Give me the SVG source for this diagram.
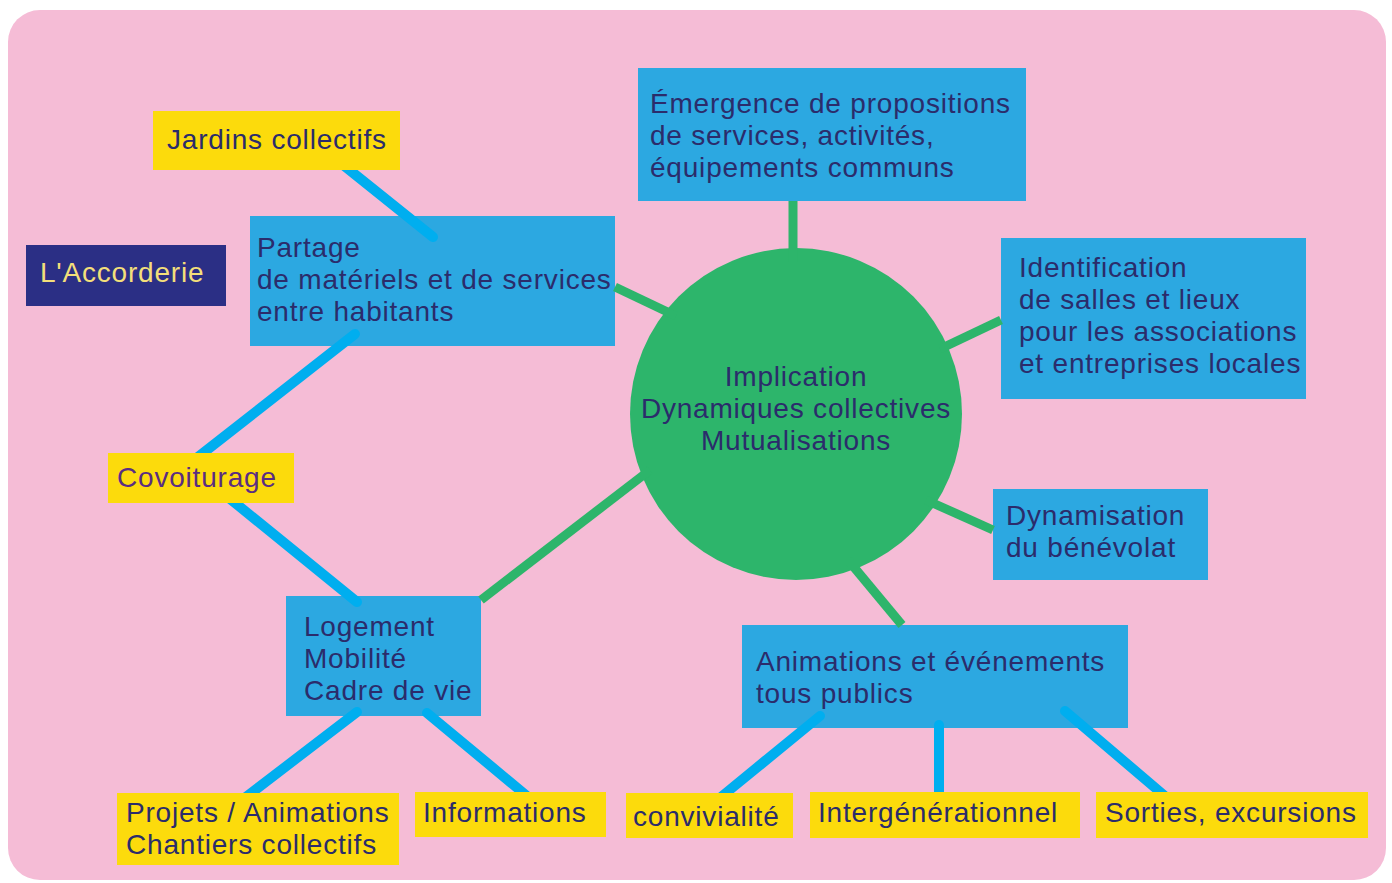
<svg xmlns="http://www.w3.org/2000/svg" width="1392" height="883" viewBox="0 0 1392 883">
<style>
.bg{fill:#f5bcd6}
.blue{fill:#2ca8e1}
.yel{fill:#fcdb0c}
.navy{fill:#2b2f85}
.t{font-family:"Liberation Sans",Arial,sans-serif;font-size:28px;letter-spacing:0.8px;fill:#2b2c6b}
.tc{text-anchor:middle}
.g{stroke:#2db56b;stroke-width:9;fill:none}
.b{stroke:#00aeef;stroke-width:10;fill:none;stroke-linecap:round}
</style>
<rect x="0" y="0" width="1392" height="883" fill="#ffffff"/>
<rect class="bg" x="8" y="10" width="1378" height="870" rx="32"/>
<g id="center">
<circle cx="796" cy="414" r="166" fill="#2db56b"/>
<text class="t tc" x="796" y="386">Implication</text>
<text class="t tc" x="796" y="418">Dynamiques collectives</text>
<text class="t tc" x="796" y="450">Mutualisations</text>
</g>
<g id="accorderie">
<rect class="navy" x="26" y="245" width="200" height="61"/>
<text class="t" x="40" y="282" style="fill:#f3df7a">L'Accorderie</text>
</g>
<g id="partage">
<rect class="blue" x="250" y="216" width="365" height="130"/>
<text class="t" x="257" y="257">Partage</text>
<text class="t" x="257" y="289">de matériels et de services</text>
<text class="t" x="257" y="321">entre habitants</text>
</g>
<g id="emergence">
<rect class="blue" x="638" y="68" width="388" height="133"/>
<text class="t" x="650" y="113">Émergence de propositions</text>
<text class="t" x="650" y="145">de services, activités,</text>
<text class="t" x="650" y="177">équipements communs</text>
</g>
<g id="identification">
<rect class="blue" x="1001" y="238" width="305" height="161"/>
<text class="t" x="1019" y="277">Identification</text>
<text class="t" x="1019" y="309">de salles et lieux</text>
<text class="t" x="1019" y="341">pour les associations</text>
<text class="t" x="1019" y="373">et entreprises locales</text>
</g>
<g id="dynamisation">
<rect class="blue" x="993" y="489" width="215" height="91"/>
<text class="t" x="1006" y="525">Dynamisation</text>
<text class="t" x="1006" y="557">du bénévolat</text>
</g>
<g id="animations">
<rect class="blue" x="742" y="625" width="386" height="103"/>
<text class="t" x="756" y="671">Animations et événements</text>
<text class="t" x="756" y="703">tous publics</text>
</g>
<g id="logement">
<rect class="blue" x="286" y="596" width="195" height="120"/>
<text class="t" x="304" y="636">Logement</text>
<text class="t" x="304" y="668">Mobilité</text>
<text class="t" x="304" y="700">Cadre de vie</text>
</g>
<g id="connectors">
<line class="g" x1="793" y1="201" x2="793" y2="262"/>
<line class="g" x1="615" y1="287" x2="676" y2="316"/>
<line class="g" x1="1001" y1="320" x2="940" y2="349"/>
<line class="g" x1="993" y1="530" x2="926" y2="500"/>
<line class="g" x1="902" y1="625" x2="848" y2="560"/>
<line class="g" x1="481" y1="600" x2="650" y2="470"/>
<line class="b" x1="342" y1="164" x2="433" y2="237"/>
<line class="b" x1="355" y1="334" x2="198" y2="457"/>
<line class="b" x1="229" y1="498" x2="357" y2="602"/>
<line class="b" x1="357" y1="712" x2="246" y2="797"/>
<line class="b" x1="427" y1="713" x2="527" y2="796"/>
<line class="b" x1="820" y1="716" x2="721" y2="797"/>
<line class="b" x1="939" y1="725" x2="939" y2="798"/>
<line class="b" x1="1065" y1="711" x2="1166" y2="797"/>
</g>
<g id="jardins">
<rect class="yel" x="153" y="111" width="247" height="59"/>
<text class="t" x="167" y="149">Jardins collectifs</text>
</g>
<g id="covoiturage">
<rect class="yel" x="108" y="453" width="186" height="50"/>
<text class="t" x="117" y="487" style="fill:#5a2d82">Covoiturage</text>
</g>
<g id="projets">
<rect class="yel" x="117" y="793" width="282" height="72"/>
<text class="t" x="126" y="822">Projets / Animations</text>
<text class="t" x="126" y="854">Chantiers collectifs</text>
</g>
<g id="informations">
<rect class="yel" x="415" y="792" width="191" height="45"/>
<text class="t" x="423" y="822">Informations</text>
</g>
<g id="convivialite">
<rect class="yel" x="626" y="793" width="167" height="45"/>
<text class="t" x="633" y="826">convivialité</text>
</g>
<g id="intergenerationnel">
<rect class="yel" x="810" y="792" width="270" height="46"/>
<text class="t" x="818" y="822">Intergénérationnel</text>
</g>
<g id="sorties">
<rect class="yel" x="1096" y="792" width="272" height="46"/>
<text class="t" x="1105" y="822">Sorties, excursions</text>
</g>
</svg>
